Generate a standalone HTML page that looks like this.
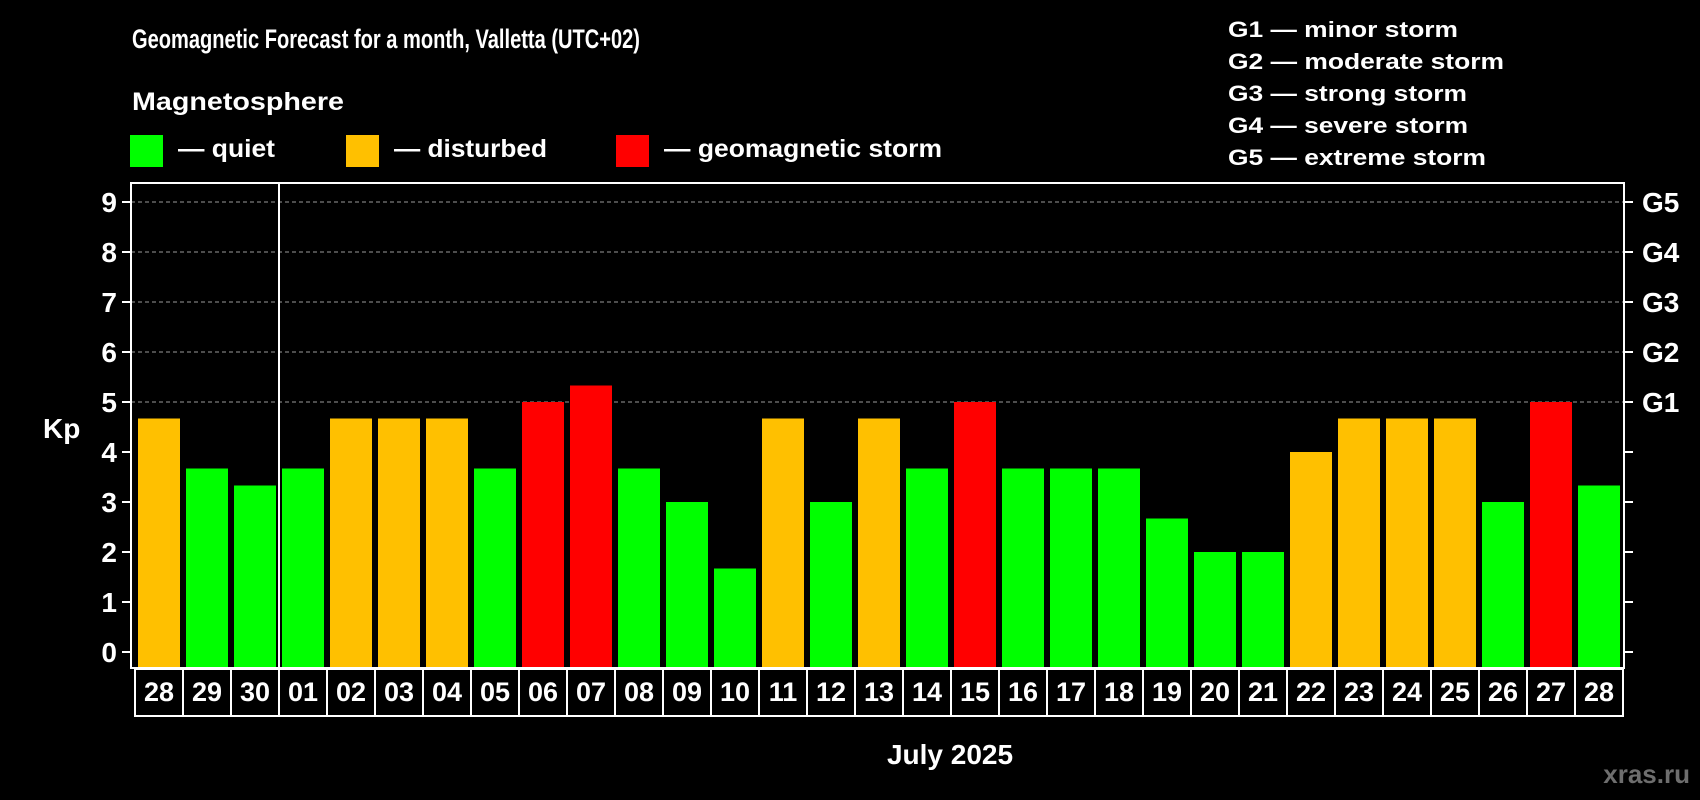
<!DOCTYPE html>
<html><head><meta charset="utf-8"><style>
html,body{margin:0;padding:0;background:#000;}
svg{display:block;font-family:"Liberation Sans",Arial,sans-serif;font-weight:bold;}
</style></head><body>
<svg id="chart" width="1700" height="800" viewBox="0 0 1700 800" xmlns="http://www.w3.org/2000/svg">
<rect x="0" y="0" width="1700" height="800" fill="#000"/>
<text x="132" y="48" fill="#fff" font-size="27" textLength="508" lengthAdjust="spacingAndGlyphs">Geomagnetic Forecast for a month, Valletta (UTC+02)</text>
<text x="132" y="110" fill="#fff" font-size="25" textLength="212" lengthAdjust="spacingAndGlyphs">Magnetosphere</text>
<g>
<rect x="130" y="135" width="33" height="32" fill="#00ff00"/>
<text x="178" y="157" fill="#fff" font-size="25" textLength="97" lengthAdjust="spacingAndGlyphs">— quiet</text></g>
<g>
<rect x="346" y="135" width="33" height="32" fill="#ffc000"/>
<text x="394" y="157" fill="#fff" font-size="25" textLength="153" lengthAdjust="spacingAndGlyphs">— disturbed</text></g>
<g>
<rect x="616" y="135" width="33" height="32" fill="#ff0000"/>
<text x="664" y="157" fill="#fff" font-size="25" textLength="278" lengthAdjust="spacingAndGlyphs">— geomagnetic storm</text></g>
<g fill="#fff" font-size="22">
<text x="1228" y="37" textLength="230" lengthAdjust="spacingAndGlyphs">G1 — minor storm</text>
<text x="1228" y="69" textLength="276" lengthAdjust="spacingAndGlyphs">G2 — moderate storm</text>
<text x="1228" y="101" textLength="239" lengthAdjust="spacingAndGlyphs">G3 — strong storm</text>
<text x="1228" y="133" textLength="240" lengthAdjust="spacingAndGlyphs">G4 — severe storm</text>
<text x="1228" y="165" textLength="258" lengthAdjust="spacingAndGlyphs">G5 — extreme storm</text>
</g>
<g id="grid"></g>
<g id="bars"></g>
<g id="axes"></g>
<text x="43" y="438" fill="#fff" font-size="28">Kp</text>
<text x="950" y="764" fill="#fff" font-size="28" text-anchor="middle">July 2025</text>
<text x="1690" y="783" fill="#6e6e6e" font-size="26" text-anchor="end">xras.ru</text>
</svg>
<script>
const days = ["28","29","30","01","02","03","04","05","06","07","08","09","10","11","12","13","14","15","16","17","18","19","20","21","22","23","24","25","26","27","28"];
const kpValues = [4.67,3.67,3.33,3.67,4.67,4.67,4.67,3.67,5,5.33,3.67,3,1.67,4.67,3,4.67,3.67,5,3.67,3.67,3.67,2.67,2,2,4,4.67,4.67,4.67,3,5,3.33];
const yTicks = [0,1,2,3,4,5,6,7,8,9];
const gLabels = ["","","","","","G1","G2","G3","G4","G5"];
const monthStartIndex = 3;

const NS = "http://www.w3.org/2000/svg";
const plotL = 131, plotR = 1624, plotT = 183, plotB = 668;
const slotX0 = 135, slotW = 48, barW = 42;
function y(v){ return 652 - 50 * v; }
function x(i){ return slotX0 + i * slotW; }
function color(v){ return v >= 5 ? "#ff0000" : (v >= 4 ? "#ffc000" : "#00ff00"); }
function mk(tag, attrs, parent){ const e = document.createElementNS(NS, tag); for (const k in attrs) e.setAttribute(k, attrs[k]); parent.appendChild(e); return e; }

const grid = document.getElementById("grid");
const bars = document.getElementById("bars");
const axes = document.getElementById("axes");

yTicks.forEach(t => {
  if (t >= 5) {
    const gl = mk("line", {x1: plotL, x2: plotR, y1: y(t), y2: y(t), stroke: "#9a9a9a", "stroke-width": 1, "stroke-dasharray": "4 3"}, grid);
    
    
  }
  const tl = mk("line", {x1: plotL - 9, x2: plotL, y1: y(t), y2: y(t), stroke: "#fff", "stroke-width": 2}, axes);
  
  
  const tr = mk("line", {x1: plotR, x2: plotR + 9, y1: y(t), y2: y(t), stroke: "#fff", "stroke-width": 2}, axes);
  
  
  const lab = mk("text", {x: 117, y: y(t) + 10, fill: "#fff", "font-size": 28, "text-anchor": "end"}, axes);
  lab.textContent = t;
  
  
  if (gLabels[t]) {
    const gl2 = mk("text", {x: 1642, y: y(t) + 10, fill: "#fff", "font-size": 28}, axes);
    gl2.textContent = gLabels[t];
    
    
  }
});

kpValues.forEach((v, i) => {
  const r = mk("rect", {x: x(i) + 3, y: y(v), width: barW, height: plotB - y(v), fill: color(v)}, bars);
  
  
  const box = mk("rect", {x: x(i), y: plotB + 1, width: slotW, height: 47, fill: "none", stroke: "#fff", "stroke-width": 2}, axes);
  
  
  const dl = mk("text", {x: x(i) + slotW / 2, y: 701, fill: "#fff", "font-size": 27, "text-anchor": "middle"}, axes);
  dl.textContent = days[i];
  
  
});

const frame = mk("rect", {x: plotL, y: plotT, width: plotR - plotL, height: plotB - plotT, fill: "none", stroke: "#fff", "stroke-width": 2}, axes);


const div = mk("line", {x1: x(monthStartIndex), x2: x(monthStartIndex), y1: plotT, y2: plotB, stroke: "#fff", "stroke-width": 2}, axes);


</script>
</body></html>
